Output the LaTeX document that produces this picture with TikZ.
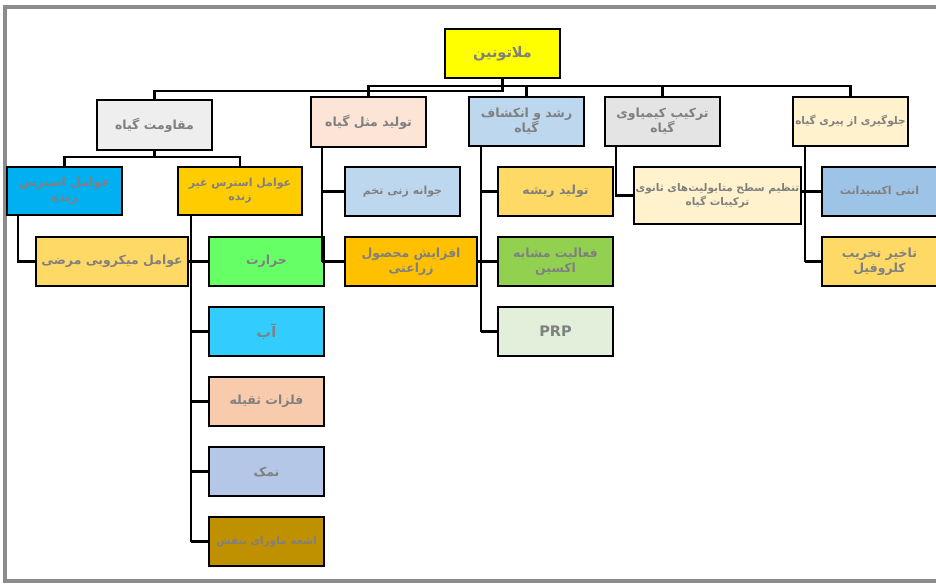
\documentclass[tikz,border=0pt]{standalone}
\usepackage{fontspec}
\newfontfamily\arabicfont[Script=Arabic]{DejaVu Sans}
\TeXXeTstate=1
\newcommand{\ar}[1]{{\arabicfont\bfseries\beginR #1\endR}}
\definecolor{txtgray}{HTML}{808080}
\definecolor{cRoot}{HTML}{FFFF00}
\definecolor{cA}{HTML}{EEEEEE}
\definecolor{cB}{HTML}{FCE4D6}
\definecolor{cC}{HTML}{BDD7EE}
\definecolor{cD}{HTML}{E4E4E4}
\definecolor{cE}{HTML}{FFF2CC}
\definecolor{cAone}{HTML}{00B0F0}
\definecolor{cAtwo}{HTML}{FFCC00}
\definecolor{cGold}{HTML}{FFD966}
\definecolor{cGreen}{HTML}{66FF66}
\definecolor{cCyan}{HTML}{33CCFF}
\definecolor{cPeach}{HTML}{F8CBAD}
\definecolor{cLav}{HTML}{B4C7E7}
\definecolor{cDark}{HTML}{BF9000}
\definecolor{cOrange}{HTML}{FFC000}
\definecolor{cLime}{HTML}{92D050}
\definecolor{cPale}{HTML}{E2EFDA}
\definecolor{cSky}{HTML}{9DC3E6}
\tikzset{
  bx/.style={draw=black, line width=2.5pt, minimum width=115pt, minimum height=49pt,
    inner sep=1pt, align=center, text=txtgray, font=\fontsize{12.5}{15}\selectfont},
  bigtxt/.style={font=\fontsize{14.5}{17}\selectfont},
  smalltxt/.style={font=\fontsize{11}{14}\selectfont},
  tinytxt/.style={font=\fontsize{10.5}{14}\selectfont},
  conn/.style={draw=black, line width=2.2pt}
}
\begin{document}
\begin{tikzpicture}[x=1pt,y=-1pt]
\useasboundingbox (0,0) rectangle (936,583);
\draw[line width=3.5pt, draw=gray!90] (5,7) rectangle (945,581);

\coordinate (busA) at (0,91);
\coordinate (busT) at (0,86);
\coordinate (busAc) at (0,157);

\node[bx, fill=cRoot, bigtxt] (root) at (502.5,53.5) {\ar{ملاتونین}};

\node[bx, fill=cA, minimum height=50pt] (A) at (154.5,125) {\ar{مقاومت گیاه}};
\node[bx, fill=cB, minimum height=50pt] (B) at (368.5,122) {\ar{تولید مثل گیاه}};
\node[bx, fill=cC] (C) at (526.5,121.5) {\ar{رشد و انکشاف}\\\ar{گیاه}};
\node[bx, fill=cD] (D) at (662.5,121.5) {\ar{ترکیب کیمیاوی}\\\ar{گیاه}};
\node[bx, fill=cE, tinytxt] (E) at (850.5,121.5) {\ar{جلوگیری از پیری گیاه}};

\node[bx, fill=cAone, minimum height=48pt] (A1) at (64.5,191) {\ar{عوامل استرس}\\\ar{زنده}};
\node[bx, fill=cAtwo, minimum width=124pt, minimum height=48pt, smalltxt] (A2) at (240,191) {\ar{عوامل استرس غیر}\\\ar{زنده}};
\node[bx, fill=cGold, minimum width=152pt] (A1c) at (112,261.5) {\ar{عوامل میکروبی مرضی}};

\node[bx, fill=cGreen] (H1) at (266.5,261.5) {\ar{حرارت}};
\node[bx, fill=cCyan, bigtxt] (H2) at (266.5,331.5) {\ar{آب}};
\node[bx, fill=cPeach] (H3) at (266.5,401.5) {\ar{فلزات ثقیله}};
\node[bx, fill=cLav] (H4) at (266.5,471.5) {\ar{نمک}};
\node[bx, fill=cDark, tinytxt] (H5) at (266.5,541.5) {\ar{اشعه ماورای بنفش}};

\node[bx, fill=cC, smalltxt] (B1) at (402.5,191.5) {\ar{جوانه زنی تخم}};
\node[bx, fill=cOrange, minimum width=132pt] (B2) at (411,261.5) {\ar{افزایش محصول}\\\ar{زراعتی}};

\node[bx, fill=cGold] (C1) at (555.5,191.5) {\ar{تولید ریشه}};
\node[bx, fill=cLime] (C2) at (555.5,261.5) {\ar{فعالیت مشابه}\\\ar{اکسین}};
\node[bx, fill=cPale, bigtxt] (C3) at (555.5,331.5) {{\arabicfont\bfseries PRP}};

\node[bx, fill=cE, minimum width=167pt, minimum height=57pt, tinytxt] (D1) at (717.5,195.5) {\ar{تنظیم سطح متابولیت‌های ثانوی}\\\ar{ترکیبات گیاه}};

\node[bx, fill=cSky, smalltxt] (E1) at (879.5,191.5) {\ar{انتی اکسیدانت}};
\node[bx, fill=cGold] (E2) at (879.5,261.5) {\ar{تاخیر تخریب}\\\ar{کلروفیل}};

% level 1 connectors
\draw[conn] (root.south) -- (root.south |- busA) -| (A.north);
\draw[conn] (B.north) |- (E.north |- busT) -- (E.north);
\draw[conn] (C.north) -- (C.north |- busT);
\draw[conn] (D.north) -- (D.north |- busT);

% A branch
\draw[conn] (A.south) -- (A.south |- busAc);
\draw[conn] (A1.north) |- (A2.north |- busAc) -- (A2.north);
\coordinate (a1x) at (18,0);
\draw[conn] (a1x |- A1.south) |- (A1c.west);
\coordinate (a2x) at (191,0);
\draw[conn] (a2x |- A2.south) -- (a2x |- H5.west);
\foreach \n in {H1,H2,H3,H4,H5} \draw[conn] (a2x |- \n.west) -- (\n.west);
\draw[conn] (A1c.east) -- (H1.west);

% B branch
\coordinate (bx) at (322,0);
\draw[conn] (bx |- B.south) -- (bx |- B2.west);
\draw[conn] (bx |- B1.west) -- (B1.west);
\draw[conn] (bx |- B2.west) -- (B2.west);

% C branch
\coordinate (cx) at (481,0);
\draw[conn] (cx |- C.south) -- (cx |- C3.west);
\foreach \n in {C1,C2,C3} \draw[conn] (cx |- \n.west) -- (\n.west);
\draw[conn] (B2.east) -- (C2.west);

% D branch
\coordinate (dx) at (616,0);
\draw[conn] (dx |- D.south) |- (D1.west);

% E branch
\coordinate (ex) at (805,0);
\draw[conn] (ex |- E.south) -- (ex |- E2.west);
\foreach \n in {E1,E2} \draw[conn] (ex |- \n.west) -- (\n.west);
\draw[conn] (D1.east |- E1.west) -- (E1.west);
\end{tikzpicture}
\end{document}
